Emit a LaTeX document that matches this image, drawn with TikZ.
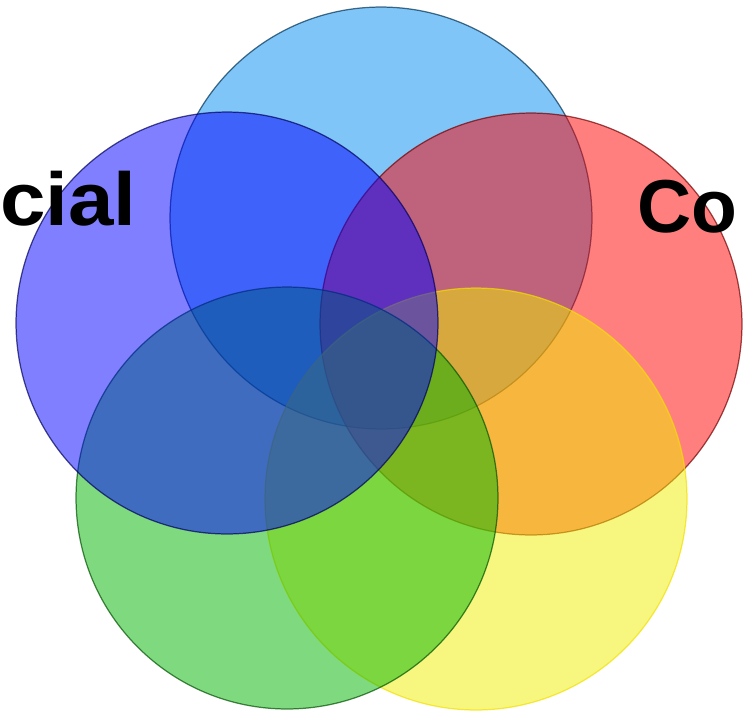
\documentclass[tikz,border=0pt]{standalone}
\usepackage{tikz}
\usepackage{xcolor}
\usepackage{fontspec}
\setmainfont{Liberation Sans}

\definecolor{skyc}{RGB}{0,140,240}
\definecolor{bluec}{RGB}{0,0,255}
\definecolor{redc}{RGB}{255,0,0}
\definecolor{greenc}{RGB}{0,180,0}
\definecolor{yellowc}{RGB}{240,240,0}

\begin{document}
\begin{tikzpicture}[x=0.02cm,y=-0.02cm,
		ring/.style={circle,minimum size=8.44cm,inner sep=0pt,fill opacity=0.5,draw opacity=0.7,line width=0.7pt},
		word/.style={inner sep=0pt,font=\fontsize{42.7}{48}\selectfont\bfseries}]
		\clip (0,0) rectangle (743,711);
		% circles, back to front
		\node[ring,fill=skyc,draw=skyc!35!black] (upper) at (381,218) {};
		\node[ring,fill=redc,draw=redc!45!black] (right) at (531,324) {};
		\node[ring,fill=yellowc,draw=yellowc!85!orange] (lowright) at (476,499) {};
		\node[ring,fill=greenc,draw=greenc!45!black] (lowleft) at (287,498) {};
		\node[ring,fill=bluec,draw=bluec!35!black] (left) at (227,323) {};
		% labels
		\node[word,anchor=base east] (social) at (137,225) {\scalebox{1.09}[1]{cial}};
		\node[word,anchor=base west] (co) at (637,232) {Co};
\end{tikzpicture}
\end{document}
